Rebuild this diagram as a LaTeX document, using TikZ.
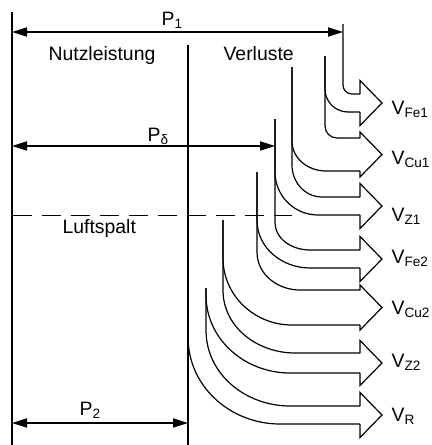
\documentclass[tikz,border=0pt]{standalone}
\usepackage{fontspec}
\setmainfont{Liberation Sans}
\usetikzlibrary{arrows.meta}

\begin{document}
\begin{tikzpicture}[
  x=0.5pt, y=-0.5pt,
  line width=0.6pt,
  every node/.style={inner sep=0pt,anchor=base west,font=\fontsize{9.7}{11.6}\selectfont},
  dim/.style={{Triangle[length=7.5pt,width=4.6pt]}-{Triangle[length=7.5pt,width=4.6pt]}},
  gap/.style={dash pattern=on 9.5pt off 5pt}
]
\useasboundingbox (0,0) rectangle (432,445);

% borders of the power bands
\draw (12,12) -- (12,445);
\draw (188,45) -- (188,445);
\coordinate (p1w) at (12,32);
\coordinate (p1e) at (343,32);
\coordinate (pdw) at (12,146);
\coordinate (pde) at (275,146);
\coordinate (p2w) at (12,423);
\coordinate (p2e) at (188,423);
\coordinate (lsw) at (12.7,215.5);
\coordinate (lse) at (292,215.5);

\draw[dim] (p1w) -- (p1e);
\draw[dim] (pdw) -- (pde);
\draw[dim] (p2w) -- (p2e);
\draw[gap] (lsw) -- (lse);

% loss streams: x, start, end of straight part, end of bend
\foreach \x/\ys/\yb/\xh/\yh in {343/24/85/352/94, 325/56/89/348/112,
    325/56/126/337/138, 292/67/141/326/171, 292/67/165/322/197,
    275/119/172/318/215, 275/119/222/310/250, 257/172/220/310/268,
    257/172/252/300/290, 223/220/258/292/325, 223/220/290/295/353,
    206/288/295/290/373, 206/288/330/290/406, 188/337/337/280/424}
  \draw (\x,\ys) -- (\x,\yb) to[out=-90,in=180] (\xh,\yh) -- (360,\yh);

% arrow heads
\foreach \t/\b in {94/112, 138/171, 197/215, 250/268, 290/325, 353/373, 406/424}
  \draw (360,\t) -- (360,{(\t+\b)/2-22.5}) -- (382,{(\t+\b)/2})
    -- (360,{(\t+\b)/2+22.5}) -- (360,\b);

\node (p1) at (161,25) {P\textsubscript{1}};
\node (nutz) at (48,60) {Nutzleistung};
\node (verl) at (223,60) {Verluste};
\node (pdelta) at (147,141) {P\textsubscript{δ}};
\node (luft) at (62,233) {Luftspalt};
\node (p2) at (79,415) {P\textsubscript{2}};

\node (vfe1) at (391,114) {V\textsubscript{Fe1}};
\node (vcu1) at (391,164) {V\textsubscript{Cu1}};
\node (vz1) at (391,221) {V\textsubscript{Z1}};
\node (vfe2) at (391,263) {V\textsubscript{Fe2}};
\node (vcu2) at (391,314) {V\textsubscript{Cu2}};
\node (vz2) at (391,367) {V\textsubscript{Z2}};
\node (vr) at (391,421) {V\textsubscript{R}};
\end{tikzpicture}
\end{document}
